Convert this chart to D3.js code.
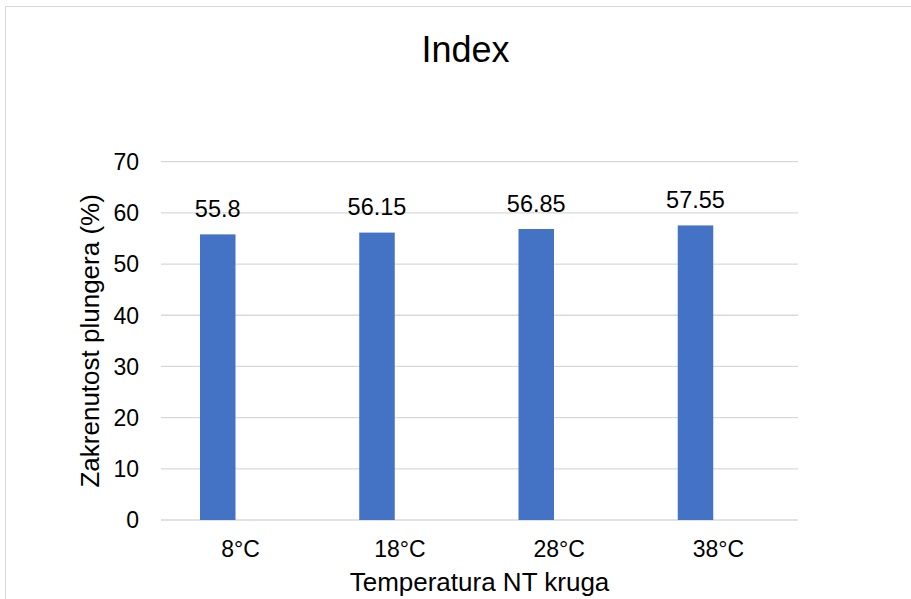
<!DOCTYPE html>
<html lang="en">
<head>
    <meta charset="UTF-8">
    <title>Index</title>
    <script src="https://d3js.org/d3.v7.min.js"></script>
    <style>
        body { margin: 0; background: #fff; font-family: "Liberation Sans", Arial, sans-serif; }
    </style>
</head>
<body>
    <script>
        // Chart data
        const categories = ["8°C", "18°C", "28°C", "38°C"];
        const series = ["Index", "Series 2"];
        const values = [55.8, 56.15, 56.85, 57.55];
        const yTicks = [0, 10, 20, 30, 40, 50, 60, 70];

        const W = 911, H = 599;
        const plot = { left: 161, right: 798, top: 161.7, bottom: 520 };

        const svg = d3.select("body").append("svg")
            .attr("width", W)
            .attr("height", H);

        // Chart area border
        svg.append("rect")
            .attr("x", 5.5).attr("y", 6.5)
            .attr("width", 1000).attr("height", 1000)
            .attr("fill", "none")
            .attr("stroke", "#d9d9d9")
            .attr("stroke-width", 1);

        // Scales
        const x = d3.scaleBand()
            .domain(categories)
            .range([plot.left, plot.right])
            .padding(0);

        // second series is empty, so bars sit left of the category centre
        const xSub = d3.scaleBand()
            .domain(series)
            .range([0, x.bandwidth()])
            .paddingInner(0.224)
            .paddingOuter(0.852);

        const y = d3.scaleLinear()
            .domain([0, 70])
            .range([plot.bottom, plot.top]);

        // Gridlines
        svg.append("g")
            .selectAll("line")
            .data(yTicks)
            .join("line")
            .attr("x1", plot.left)
            .attr("x2", plot.right)
            .attr("y1", d => y(d))
            .attr("y2", d => y(d))
            .attr("stroke", "#d9d9d9")
            .attr("stroke-width", 1.3);

        // Y tick labels
        svg.append("g")
            .selectAll("text")
            .data(yTicks)
            .join("text")
            .attr("x", plot.left - 22)
            .attr("y", d => y(d))
            .attr("dy", "0.36em")
            .attr("text-anchor", "end")
            .style("font-size", "23px")
            .attr("fill", "#000")
            .text(d => d);

        // Bars
        svg.append("g")
            .selectAll("rect")
            .data(values)
            .join("rect")
            .attr("x", (d, i) => x(categories[i]) + xSub(series[0]))
            .attr("y", d => y(d))
            .attr("width", xSub.bandwidth())
            .attr("height", d => y(0) - y(d))
            .attr("fill", "#4472c4");

        // Data labels
        svg.append("g")
            .selectAll("text")
            .data(values)
            .join("text")
            .attr("x", (d, i) => x(categories[i]) + xSub(series[0]) + xSub.bandwidth() / 2)
            .attr("y", d => y(d) - 17.5)
            .attr("text-anchor", "middle")
            .style("font-size", "23.5px")
            .attr("fill", "#000")
            .text(d => d);

        // X tick labels
        svg.append("g")
            .selectAll("text")
            .data(categories)
            .join("text")
            .attr("x", d => x(d) + x.bandwidth() / 2)
            .attr("y", 557)
            .attr("text-anchor", "middle")
            .style("font-size", "23px")
            .attr("fill", "#000")
            .text(d => d);

        // Title
        svg.append("text")
            .attr("x", 465.5)
            .attr("y", 62)
            .attr("text-anchor", "middle")
            .style("font-size", "36px")
            .attr("fill", "#000")
            .text("Index");

        // Axis titles
        svg.append("text")
            .attr("x", (plot.left + plot.right) / 2)
            .attr("y", 591)
            .attr("text-anchor", "middle")
            .style("font-size", "26px")
            .attr("fill", "#000")
            .text("Temperatura NT kruga");

        svg.append("text")
            .attr("transform", `translate(99, ${(plot.top + plot.bottom) / 2}) rotate(-90)`)
            .attr("text-anchor", "middle")
            .style("font-size", "26px")
            .attr("fill", "#000")
            .text("Zakrenutost plungera (%)");
    </script>
</body>
</html>
